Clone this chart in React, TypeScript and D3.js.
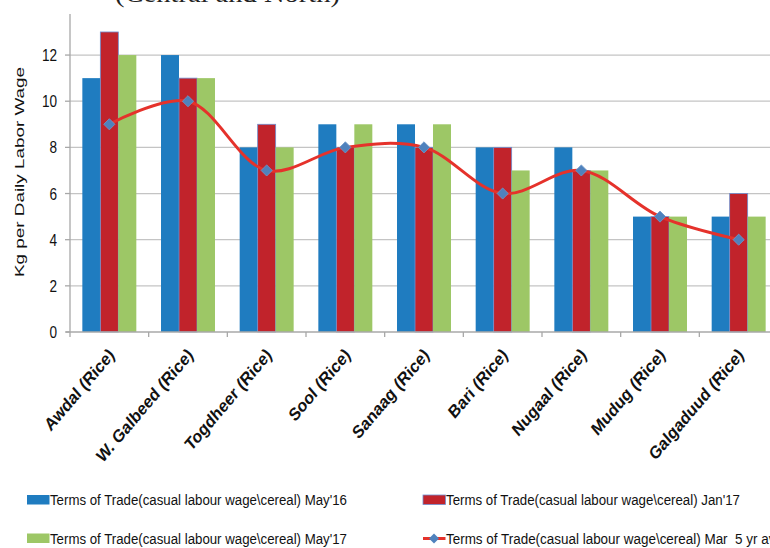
import * as React from 'react';
import * as d3 from 'd3';

// chart values
const regions = [
  'Awdal (Rice)', 'W. Galbeed (Rice)', 'Togdheer (Rice)', 'Sool (Rice)', 'Sanaag (Rice)',
  'Bari (Rice)', 'Nugaal (Rice)', 'Mudug (Rice)', 'Galgaduud (Rice)',
];
const may16 = [11, 12, 8, 9, 9, 8, 8, 5, 5];
const jan17 = [13, 11, 9, 8, 8, 8, 7, 5, 6];
const may17 = [12, 11, 8, 9, 9, 7, 7, 5, 5];
const avg5yr = [9, 10, 7, 8, 8, 6, 7, 5, 4];
const yTicks = [0, 2, 4, 6, 8, 10, 12];

const barSeries = ['may16', 'jan17', 'may17'];
const barLabels = [
  "Terms of Trade(casual labour wage\\cereal) May'16",
  "Terms of Trade(casual labour wage\\cereal) Jan'17",
  "Terms of Trade(casual labour wage\\cereal) May'17",
];
const lineLabel = "Terms of Trade(casual labour wage\\cereal) Mar  5 yr avg";
const barColors = ['#1f7cc0', '#c1232b', '#9dc766'];
const lineColor = '#e5322b';
const markerColor = '#4f82bd';

const W = 770;
const H = 548;
const left = 70;
const right = 778;
const bottom = 332;

const font = "'Liberation Sans', Arial, sans-serif";

export default function App() {
  const x0 = d3.scaleBand<string>().domain(regions).range([left, right]);
  const x1 = d3.scaleBand<string>().domain(barSeries).range([0, x0.bandwidth()])
    .paddingInner(0).paddingOuter(0.686);
  const y = d3.scaleLinear().domain([0, 14]).range([bottom, 8.9]);

  const values = [may16, jan17, may17];

  const cx = (i: number) => (x0(regions[i]) as number) + x0.bandwidth() / 2;
  const line = d3.line<number>()
    .x((d, i) => cx(i))
    .y((d) => y(d))
    .curve(d3.curveCatmullRom.alpha(0.5));
  const diamond = d3.symbol().type(d3.symbolSquare).size(62)();

  const legendItems = [
    { x: 27, y: 500, kind: 'bar', color: barColors[0], text: barLabels[0], len: 297 },
    { x: 423, y: 500, kind: 'bar', color: barColors[1], text: barLabels[1], len: 294 },
    { x: 27, y: 538.5, kind: 'bar', color: barColors[2], text: barLabels[2], len: 297 },
    { x: 423, y: 538.5, kind: 'line', color: lineColor, text: lineLabel, len: 294 * lineLabel.length / barLabels[1].length },
  ];

  return (
    <svg width={W} height={H} style={{ position: 'absolute', left: 0, top: 0, background: '#fff' }}>
      <rect x={0} y={0} width={W} height={H} fill="#fff" />

      {/* title, mostly cut off at the top */}
      <text x={115} y={2} fontFamily="'Liberation Serif', 'Times New Roman', serif" fontSize={26}
        textLength={225} lengthAdjust="spacingAndGlyphs" fill="#222">(Central and North)</text>

      {/* gridlines */}
      {yTicks.filter((t) => t > 0).map((t) => (
        <line key={'g' + t} x1={left} x2={right} y1={y(t)} y2={y(t)} stroke="#c4c4c4" strokeWidth={1.3} />
      ))}

      {/* bars */}
      {values.map((vals, s) => vals.map((v, i) => (
        <rect key={s + '-' + i}
          x={(x0(regions[i]) as number) + (x1(barSeries[s]) as number)}
          y={y(v)} width={x1.bandwidth()} height={bottom - y(v)}
          fill={barColors[s]}
          stroke={s === 1 ? '#6f8fd0' : 'none'} strokeWidth={s === 1 ? 0.8 : 0} />
      )))}

      {/* axes */}
      <line x1={left} x2={left} y1={y(14) + 5} y2={bottom} stroke="#a8a8a8" strokeWidth={1.3} />
      <line x1={left - 4} x2={right} y1={bottom} y2={bottom} stroke="#a8a8a8" strokeWidth={1.3} />
      {yTicks.map((t) => (
        <g key={'yt' + t}>
          <line x1={left - 5} x2={left} y1={y(t)} y2={y(t)} stroke="#a8a8a8" strokeWidth={1.3} />
          <text transform={`translate(57,${y(t)}) scale(0.8,1)`} dy="0.36em" textAnchor="end"
            fontFamily={font} fontSize={17} fill="#111">{t}</text>
        </g>
      ))}
      {regions.map((r, i) => (
        <line key={'xt' + i} x1={x0(r) as number} x2={x0(r) as number} y1={bottom} y2={bottom + 5}
          stroke="#a8a8a8" strokeWidth={1.3} />
      ))}
      <line x1={right} x2={right} y1={bottom} y2={bottom + 5} stroke="#a8a8a8" strokeWidth={1.3} />

      {/* category labels */}
      {regions.map((r, i) => (
        <text key={'xl' + i} transform={`translate(${cx(i) + 6},${bottom + 24}) scale(0.85,1) rotate(-45)`}
          textAnchor="end" fontFamily={font} fontWeight="bold" fontSize={18} fill="#111">{r}</text>
      ))}

      {/* y axis title */}
      <text transform={`translate(24,172) scale(0.7,1) rotate(-90)`} textAnchor="middle"
        fontFamily={font} fontSize={18.9} fill="#111">Kg per Daily Labor Wage</text>

      {/* 5 yr average line */}
      <path d={line(avg5yr) as string} fill="none" stroke={lineColor} strokeWidth={3} />
      {avg5yr.map((v, i) => (
        <path key={'m' + i} d={diamond as string} transform={`translate(${cx(i)},${y(v)}) rotate(45)`}
          fill={markerColor} stroke="#6d97c9" strokeWidth={0.8} />
      ))}

      {/* legend */}
      {legendItems.map((it, k) => (
        <g key={'lg' + k}>
          {it.kind === 'bar' ? (
            <rect x={it.x} y={it.y - 5} width={22.5} height={9.5} fill={it.color}
              stroke={k === 1 ? '#6f8fd0' : 'none'} strokeWidth={0.8} />
          ) : (
            <g>
              <line x1={it.x} x2={it.x + 22.5} y1={it.y} y2={it.y} stroke={it.color} strokeWidth={3} />
              <path d={diamond as string} transform={`translate(${it.x + 11},${it.y}) rotate(45) scale(0.9)`}
                fill={markerColor} />
            </g>
          )}
          <text x={it.x + 23} y={it.y} dy="0.36em" fontFamily={font} fontSize={14} fill="#111"
            textLength={it.len} lengthAdjust="spacingAndGlyphs" style={{ whiteSpace: 'pre' }}>{it.text}</text>
        </g>
      ))}
    </svg>
  );
}
